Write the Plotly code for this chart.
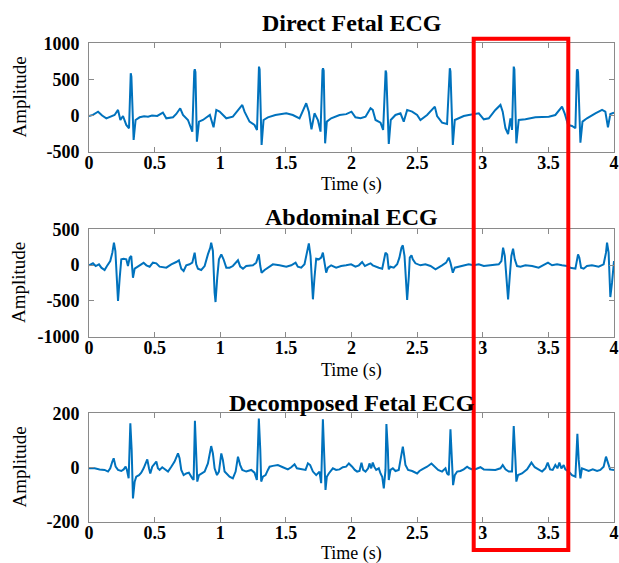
import plotly.graph_objects as go

# ---------------- data ----------------
t_direct = [0.000, 0.030, 0.069, 0.100, 0.132, 0.170, 0.195, 0.221, 0.239, 0.259, 0.284, 0.305,
            0.314, 0.318, 0.323, 0.340, 0.355, 0.386, 0.420, 0.450, 0.480, 0.520, 0.563, 0.589,
            0.640, 0.665, 0.695, 0.716, 0.754, 0.787, 0.802, 0.806, 0.811, 0.822, 0.838, 0.868,
            0.921, 0.949, 0.970, 0.995, 1.046, 1.096, 1.168, 1.185, 1.223, 1.261, 1.280, 1.291,
            1.295, 1.300, 1.315, 1.330, 1.363, 1.420, 1.503, 1.553, 1.604, 1.655, 1.675, 1.695,
            1.718, 1.744, 1.764, 1.779, 1.783, 1.788, 1.799, 1.812, 1.845, 1.909, 1.960, 2.000,
            2.030, 2.069, 2.107, 2.145, 2.162, 2.183, 2.221, 2.241, 2.256, 2.260, 2.265, 2.284,
            2.299, 2.335, 2.373, 2.398, 2.424, 2.462, 2.500, 2.525, 2.576, 2.614, 2.635, 2.652,
            2.690, 2.728, 2.745, 2.749, 2.754, 2.772, 2.787, 2.817, 2.855, 2.893, 2.931, 2.970,
            3.008, 3.046, 3.096, 3.135, 3.152, 3.173, 3.193, 3.211, 3.223, 3.232, 3.236, 3.241,
            3.256, 3.274, 3.325, 3.401, 3.503, 3.553, 3.604, 3.624, 3.650, 3.680, 3.706, 3.717,
            3.721, 3.726, 3.744, 3.760, 3.794, 3.858, 3.909, 3.934, 3.954, 3.972, 4.000]
v_direct = [-6, 10, 54, 0, -38, -6, 8, 78, -61, -6, -130, -176,
            560, 585, 540, -338, -61, -24, -10, -15, 0, -5, 41, -38,
            -24, 22, 101, 8, -61, -222, 610, 640, 600, -361, -84, -61,
            8, -162, 78, 54, -38, -15, 147, 54, -84, -130, -200, 650,
            677, 640, -407, -61, -24, 8, 31, 8, -38, 170, 54, -190,
            31, -61, -222, 630, 654, 620, -384, -84, -38, 8, 20, 54,
            -24, -38, -15, 101, 78, -61, -98, -199, 600, 622, 590, -393,
            -61, 8, 31, -84, 78, 54, 8, -61, 8, 78, 124, -6,
            -98, -116, 630, 654, 610, -407, -61, -38, -6, 8, 22, 31,
            -52, -38, 78, 147, 54, -176, -255, -38, -199, 650, 677, 640,
            -384, -61, -52, -24, -15, 8, 124, 31, -130, -144, -176, 620,
            640, 600, -375, -84, -38, 31, 78, 54, -162, 22, 41]

t_abdominal = [0.000, 0.030, 0.051, 0.076, 0.094, 0.119, 0.137, 0.162, 0.178, 0.190, 0.201, 0.208,
               0.221, 0.234, 0.246, 0.264, 0.284, 0.297, 0.310, 0.322, 0.335, 0.348, 0.373, 0.398,
               0.416, 0.437, 0.462, 0.487, 0.513, 0.538, 0.589, 0.627, 0.665, 0.685, 0.703, 0.721,
               0.741, 0.766, 0.787, 0.805, 0.817, 0.830, 0.855, 0.881, 0.906, 0.924, 0.931, 0.944,
               0.957, 0.964, 0.977, 0.990, 1.008, 1.025, 1.046, 1.071, 1.096, 1.122, 1.135, 1.152,
               1.173, 1.198, 1.249, 1.274, 1.294, 1.305, 1.315, 1.338, 1.376, 1.401, 1.452, 1.503,
               1.541, 1.574, 1.591, 1.617, 1.642, 1.660, 1.675, 1.688, 1.706, 1.718, 1.731, 1.751,
               1.769, 1.782, 1.792, 1.807, 1.820, 1.845, 1.883, 1.921, 1.959, 1.997,
               2.030, 2.056, 2.081, 2.102, 2.127, 2.145, 2.162, 2.183, 2.208, 2.234, 2.246, 2.259,
               2.272, 2.284, 2.297, 2.322, 2.348, 2.365, 2.381, 2.391, 2.404, 2.416, 2.424, 2.437,
               2.444, 2.457, 2.467, 2.487, 2.525, 2.563, 2.602, 2.640, 2.665, 2.690, 2.721, 2.741,
               2.754, 2.772, 2.787, 2.817, 2.855, 2.893, 2.931, 2.970, 3.008, 3.046, 3.084, 3.122,
               3.142, 3.155, 3.168, 3.180, 3.193, 3.206, 3.218, 3.231, 3.244, 3.261, 3.287, 3.325,
               3.376, 3.426, 3.464, 3.497, 3.528, 3.566, 3.604, 3.642, 3.668, 3.706, 3.726, 3.736,
               3.749, 3.769, 3.794, 3.832, 3.883, 3.921, 3.939, 3.947, 3.959, 3.972, 3.985, 4.000]
v_abdominal = [-3, 25, -13, 11, -36, -68, -13, 57, 174, 313, 197, -106,
               -502, -176, 81, 90, 81, -13, 104, 127, -176, -50, -13, 11,
               34, -3, -22, 34, 25, -22, -36, 11, 43, 67, -50, -82,
               -3, 11, 34, 174, 11, -50, -68, -13, 150, 244, 313, 197,
               -385, -516, -176, 81, 150, 81, -36, -36, -13, 34, 67, -22,
               -50, -13, -3, 34, 150, -13, -106, -68, -13, 11, -3, -22,
               -3, 34, -22, -36, 11, 174, 304, 127, -478, -176, 90, 81,
               104, 174, 34, -106, -36, -3, -36, -13, -3, 11,
               -22, -3, 43, -13, 11, 25, -3, -22, -36, -50, 57, 174,
               150, -59, -22, -36, 11, 104, 244, 276, 127, -339, -488, -152,
               104, 137, 81, 25, -3, 11, -13, -59, -36, -3, 34, 104,
               34, -106, -36, -22, -3, 11, -3, 11, -13, -3, -3, 11,
               57, 244, 127, -245, -478, -152, 127, 230, 81, -13, -22, -3,
               -13, -36, -3, 34, -3, 11, -3, -13, -36, -50, 150, 104,
               -36, -50, -13, -3, -22, 11, 174, 313, 174, -446, -245, 57]

t_decomposed = [0.000, 0.043, 0.081, 0.119, 0.145, 0.162, 0.178, 0.188, 0.203, 0.221, 0.246, 0.264,
                0.279, 0.289, 0.302, 0.315, 0.325, 0.335, 0.348, 0.360, 0.381, 0.398, 0.416, 0.431,
                0.444, 0.457, 0.467, 0.482, 0.495, 0.513, 0.525, 0.538, 0.558, 0.576, 0.602, 0.627,
                0.652, 0.678, 0.690, 0.703, 0.721, 0.741, 0.761, 0.787, 0.797, 0.807, 0.817, 0.825,
                0.838, 0.855, 0.881, 0.906, 0.931, 0.944, 0.957, 0.975, 0.990, 1.008, 1.020, 1.033,
                1.046, 1.071, 1.096, 1.117, 1.135, 1.152, 1.168, 1.198, 1.236, 1.261, 1.279, 1.294,
                1.305, 1.312, 1.325, 1.345, 1.363, 1.376, 1.401, 1.439, 1.477, 1.515, 1.541, 1.566,
                1.584, 1.617, 1.650, 1.668, 1.685, 1.706, 1.731, 1.756, 1.769, 1.782, 1.794, 1.802,
                1.812, 1.827, 1.858, 1.883, 1.909, 1.934, 1.959, 1.980, 2.005, 2.025, 2.043, 2.061,
                2.076, 2.089, 2.107, 2.127, 2.137, 2.150, 2.162, 2.173, 2.188, 2.208, 2.221, 2.234,
                2.246, 2.259, 2.266, 2.277, 2.284, 2.297, 2.315, 2.335, 2.360, 2.378, 2.391, 2.401,
                2.411, 2.431, 2.462, 2.500, 2.518, 2.538, 2.576, 2.609, 2.635, 2.660, 2.690, 2.716,
                2.728, 2.741, 2.754, 2.764, 2.774, 2.787, 2.805, 2.830, 2.855, 2.881, 2.898, 2.931,
                2.957, 2.982, 3.008, 3.046, 3.096, 3.135, 3.152, 3.173, 3.198, 3.223, 3.236, 3.249,
                3.256, 3.269, 3.299, 3.338, 3.371, 3.396, 3.421, 3.452, 3.477, 3.495, 3.513, 3.533,
                3.553, 3.569, 3.584, 3.599, 3.617, 3.629, 3.655, 3.680, 3.706, 3.721, 3.731, 3.744,
                3.756, 3.782, 3.807, 3.838, 3.871, 3.896, 3.921, 3.939, 3.954, 3.970, 4.000]
v_decomposed = [-3, -3, -7, -9, -15, -3, 22, 34, 3, -9, -13, -7,
                3, -9, -40, 163, 65, -114, -52, -34, -28, -19, -3, 15,
                30, -3, -22, 3, 12, 22, -3, -9, 1, -7, -15, 3,
                22, 52, 34, -9, -28, -22, -19, -40, -46, 172, 65, -52,
                -28, -22, -15, 15, 79, 52, -3, -28, -15, 52, 28, -15,
                -22, -34, -40, -15, 40, 9, -9, -15, -9, -19, -46, 181,
                65, -52, -34, -28, -9, 3, 6, 9, 1, -7, 1, 12,
                -3, -7, -9, 15, 9, -15, -28, -15, -58, 178, 40, -83,
                -34, -22, -3, -9, -7, 1, 3, 15, 3, -9, -15, -13,
                18, -9, -15, -3, 15, -3, 18, 3, -9, -3, -22, -34,
                -77, -9, 160, 65, -46, -9, -3, -13, -9, 40, 77, 46,
                9, -9, -13, -22, -13, -7, 3, 15, 1, -9, -15, -3,
                -22, -28, 141, 52, -65, -28, -15, -13, -7, 3, -3, -9,
                -3, 1, -7, -7, -9, -3, 9, -7, -15, -15, 153, 28,
                -52, -28, -22, -7, 18, 1, -7, -15, -3, 18, -7, -9,
                9, -3, 18, -3, 9, -7, -15, -28, -34, 124, 28, -40,
                -3, -9, -13, -7, -13, -9, 3, 40, 15, -7, -9]

x_tickvals = [0, 0.5, 1, 1.5, 2, 2.5, 3, 3.5, 4]
x_ticktext = ["0", "0.5", "1", "1.5", "2", "2.5", "3", "3.5", "4"]

panel_titles = ["Direct Fetal ECG", "Abdominal ECG", "Decomposed Fetal ECG"]
y_ranges = [[-500, 1000], [-1000, 500], [-200, 200]]
y_tickvals = [[-500, 0, 500, 1000], [-1000, -500, 0, 500], [-200, 0, 200]]
y_ticktext = [["-500", "0", "500", "1000"], ["-1000", "-500", "0", "500"], ["-200", "0", "200"]]

series_t = [t_direct, t_abdominal, t_decomposed]
series_v = [v_direct, v_abdominal, v_decomposed]

# ---------------- layout ----------------
W, H = 619, 563
FONT = "Liberation Serif"
x_dom = [89 / W, 614 / W]
y_px = [(43.3, 151.7), (229.3, 336.7), (413.3, 521.7)]
y_doms = [[1 - b / H, 1 - t / H] for t, b in y_px]
title_y_px = [23, 217, 403]
xlabel_y_px = [184.5, 370.5, 553]

fig = go.Figure()
layout = dict(
    width=W, height=H, margin=dict(l=0, r=0, t=0, b=0, autoexpand=False),
    paper_bgcolor="white", plot_bgcolor="white", showlegend=False,
    template="none",
)
annotations = []
axis_col = "#8a8a8a"
tickfont = dict(family=FONT, size=18, color="black", weight="bold")

for i in range(3):
    sx = "" if i == 0 else str(i + 1)
    fig.add_trace(go.Scatter(
        x=series_t[i], y=series_v[i], mode="lines",
        line=dict(color="#0072BD", width=2),
        xaxis="x" + sx, yaxis="y" + sx, hoverinfo="skip",
    ))
    layout["xaxis" + sx] = dict(
        domain=x_dom, range=[0, 4], anchor="y" + sx, automargin=False,
        tickmode="array", tickvals=x_tickvals, ticktext=x_ticktext,
        ticks="inside", ticklen=5, tickcolor=axis_col, tickwidth=1,
        showline=True, linecolor=axis_col, linewidth=1, mirror="allticks",
        showgrid=False, zeroline=False, tickfont=tickfont, ticklabelstandoff=-5,
    )
    layout["yaxis" + sx] = dict(
        domain=y_doms[i], range=y_ranges[i], anchor="x" + sx, automargin=False,
        tickmode="array", tickvals=y_tickvals[i], ticktext=y_ticktext[i],
        ticks="inside", ticklen=5, tickcolor=axis_col, tickwidth=1,
        showline=True, linecolor=axis_col, linewidth=1, mirror="allticks",
        showgrid=False, zeroline=False, tickfont=tickfont, ticklabelstandoff=5,
    )
    annotations.append(dict(
        text="<b>" + panel_titles[i] + "</b>", xref="paper", yref="paper",
        x=(x_dom[0] + x_dom[1]) / 2, y=1 - title_y_px[i] / H,
        xanchor="center", yanchor="middle", showarrow=False,
        font=dict(family=FONT, size=24, color="black"),
    ))
    annotations.append(dict(
        text="Amplitude", xref="paper", yref="paper",
        x=19 / W, y=(y_doms[i][0] + y_doms[i][1]) / 2, textangle=-90,
        xanchor="center", yanchor="middle", showarrow=False,
        font=dict(family=FONT, size=19, color="black"),
    ))
    annotations.append(dict(
        text="Time (s)", xref="paper", yref="paper",
        x=(x_dom[0] + x_dom[1]) / 2, y=1 - xlabel_y_px[i] / H,
        xanchor="center", yanchor="middle", showarrow=False,
        font=dict(family=FONT, size=18, color="black"),
    ))

layout["annotations"] = annotations
layout["shapes"] = [dict(
    type="rect", xref="paper", yref="paper",
    x0=473.7 / W, x1=568.3 / W, y0=1 - 550 / H, y1=1 - 38.7 / H,
    line=dict(color="#ff0000", width=4), fillcolor="rgba(0,0,0,0)", layer="above",
)]
fig.update_layout(**layout)
fig.write_html(
    "out.html",
    config={"displayModeBar": False},
    post_script="document.body.style.margin='0';document.body.style.padding='0';document.body.style.overflow='hidden';",
)
